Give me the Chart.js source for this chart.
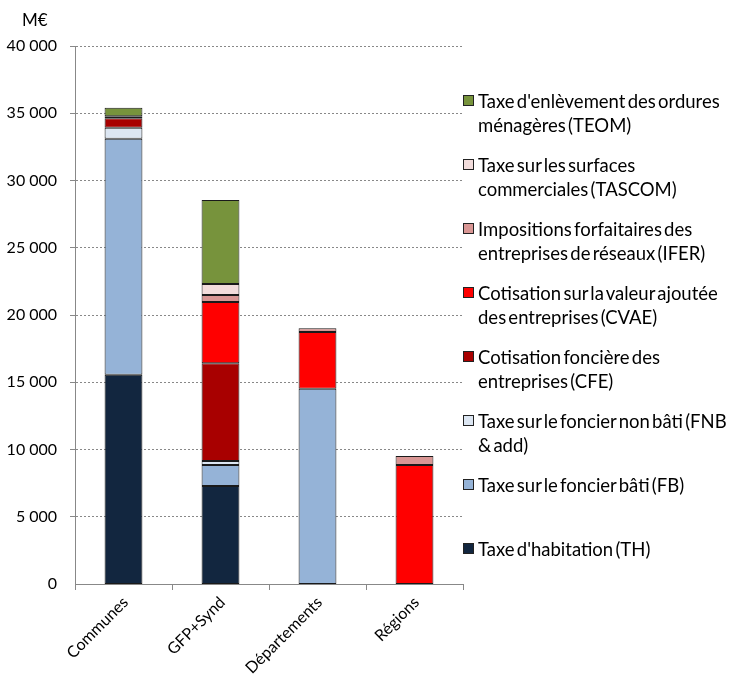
<!DOCTYPE html>
<html>
<head>
<meta charset="utf-8">
<script src="https://cdn.jsdelivr.net/npm/chart.js@4"></script>
<style>
  html, body { margin: 0; padding: 0; background: #fff; }
  #wrap { position: relative; width: 729px; height: 675px; font-family: Lato, "Liberation Sans", Arial, sans-serif; }
  canvas { position: absolute; left: 0; top: 0; }
  #unit { position: absolute; left: 22px; top: 9px; font-size: 17px; color: #000; }
  #legend { position: absolute; left: 463px; top: 89px; width: 266px; }
  .item { position: relative; height: 64px; font-size: 18.5px; line-height: 24px; color: #000; word-spacing: -2.5px; white-space: nowrap; }
  .box { position: absolute; left: 0; top: 6px; width: 9px; height: 9px; border: 1px solid #222; }
  .txt { position: absolute; left: 15px; top: 0; width: 260px; }
</style>
</head>
<body>
<div id="wrap">
  <canvas id="c" width="729" height="675"></canvas>
  <div id="unit">M€</div>
  <div id="legend"></div>
</div>
<script>
const categories = ["Communes", "GFP+Synd", "Départements", "Régions"];
const th     = [15560, 7290, 0, 0];
const fb     = [17550, 1560, 14520, 0];
const fnb    = [820, 300, 0, 0];
const cfe    = [700, 7260, 0, 0];
const cvae   = [0, 4560, 4220, 8850];
const ifer   = [90, 520, 270, 670];
const tascom = [60, 810, 0, 0];
const teom   = [620, 6250, 0, 0];
const yTicks = [0, 5000, 10000, 15000, 20000, 25000, 30000, 35000, 40000];

const seriesNames = [
  "Taxe d'habitation (TH)",
  "Taxe sur le foncier bâti (FB)",
  "Taxe sur le foncier non bâti (FNB & add)",
  "Cotisation foncière des entreprises (CFE)",
  "Cotisation sur la valeur ajoutée des entreprises (CVAE)",
  "Impositions forfaitaires des entreprises de réseaux (IFER)",
  "Taxe sur les surfaces commerciales (TASCOM)",
  "Taxe d'enlèvement des ordures ménagères (TEOM)"
];
const legendLines = [
  ["Taxe d'habitation (TH)"],
  ["Taxe sur le foncier bâti (FB)"],
  ["Taxe sur le foncier non bâti (FNB", "& add)"],
  ["Cotisation foncière des", "entreprises (CFE)"],
  ["Cotisation sur la valeur ajoutée", "des entreprises (CVAE)"],
  ["Impositions forfaitaires des", "entreprises de réseaux (IFER)"],
  ["Taxe sur les surfaces", "commerciales (TASCOM)"],
  ["Taxe d'enlèvement des ordures", "ménagères (TEOM)"]
];
const seriesData = [th, fb, fnb, cfe, cvae, ifer, tascom, teom];
const colors = ["#12263f", "#95b3d7", "#dce6f2", "#a80000", "#ff0000", "#d99694", "#f2dcdb", "#77933c"];

const datasets = seriesData.map((d, i) => ({
  label: seriesNames[i],
  data: d.map(v => v === 0 ? null : v),
  backgroundColor: colors[i],
  borderColor: "#1a1a1a",
  borderWidth: 1,
  borderSkipped: false,
  barPercentage: 0.39,
  categoryPercentage: 1.0
}));

// HTML legend (reverse order, TEOM first)
const leg = document.getElementById("legend");
for (let i = seriesData.length - 1; i >= 0; i--) {
  const it = document.createElement("div");
  it.className = "item";
  const b = document.createElement("div");
  b.className = "box";
  b.style.background = colors[i];
  const t = document.createElement("div");
  t.className = "txt";
  t.innerHTML = legendLines[i].join("<br>");
  it.appendChild(b); it.appendChild(t);
  leg.appendChild(it);
}

const fmt = v => v === 0 ? "0" : String(v).replace(/\B(?=(\d{3})+(?!\d))/g, "\u202f");

new Chart(document.getElementById("c"), {
  type: "bar",
  data: { labels: categories, datasets },
  options: {
    responsive: false,
    animation: false,
    layout: { padding: { left: 0, right: 266, top: 46, bottom: 0 } },
    plugins: { legend: { display: false }, tooltip: { enabled: false } },
    scales: {
      x: {
        stacked: true,
        offset: true,
        border: { display: true, color: "#888", width: 1 },
        grid: { offset: true, drawOnChartArea: false, drawTicks: true, tickLength: 6, color: "#888" },
        ticks: {
          color: "#000",
          font: { family: "Lato", size: 16 },
          minRotation: 45, maxRotation: 45, padding: 3, autoSkip: false,
          labelOffset: 2
        },
        afterFit: s => { s.height = 91; }
      },
      y: {
        stacked: true,
        min: 0, max: 40000,
        afterBuildTicks: s => { s.ticks = yTicks.map(v => ({ value: v })); },
        border: { display: true, color: "#888", width: 1, dash: [2, 2] },
        grid: {
          color: "#888",
          tickLength: 5,
          tickColor: "#888",
          tickBorderDash: [],
          lineWidth: ctx => ctx.tick && ctx.tick.value === 0 ? 0 : 1
        },
        ticks: {
          color: "#000",
          font: { family: "Lato", size: 16 },
          padding: 13,
          callback: v => fmt(v)
        },
        afterFit: s => { s.width = 75; }
      }
    }
  }
});
</script>
</body>
</html>
